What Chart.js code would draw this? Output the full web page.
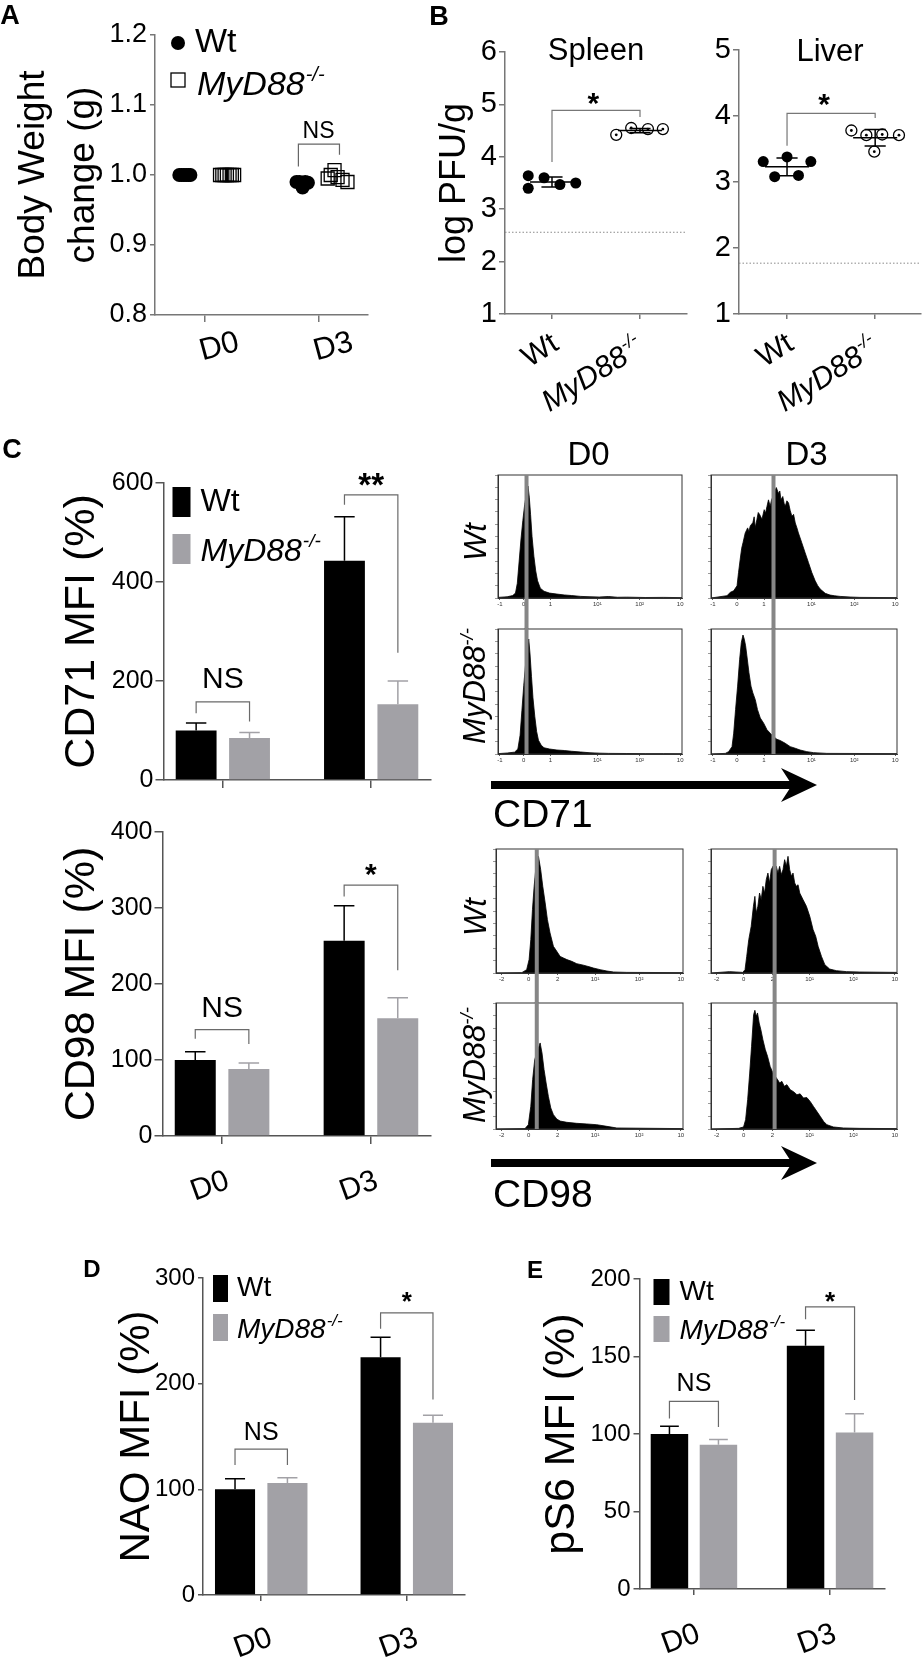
<!DOCTYPE html>
<html>
<head>
<meta charset="utf-8">
<title>MyD88 figure</title>
<script src="https://cdn.jsdelivr.net/npm/chart.js@4.4.1/dist/chart.umd.min.js"></script>
<style>
html, body { margin: 0; padding: 0; background: #fff; }
#page { position: relative; width: 924px; height: 1657px; overflow: hidden; background: #fff; font-family: "Liberation Sans", Arial, Helvetica, sans-serif; color: #000; }
.t { position: absolute; white-space: nowrap; line-height: 1; }
.t sup { font-size: 0.6em; vertical-align: 0.62em; line-height: 0; }
svg.arrows { position: absolute; left: 0; top: 0; }
</style>
</head>
<body>
<div id="page"></div>
<script>
// ===================== DATA =====================
const dayLabels = ['D0', 'D3'];
const genotypeLabels = ['Wt', 'MyD88-/-'];
const koName = 'MyD88';
const koSup = '-/-';

// Panel A - body weight change (g); x = day (with horizontal jitter)
const bwTicks = [0, 3];
const bwWtDay = [-0.66, -0.6, -0.54, -0.48, -0.42, -0.37, 2.42, 2.5, 2.58, 2.65, 2.72];
const bwWtVal = [1.0, 1.0, 1.0, 1.0, 1.0, 1.0, 0.99, 0.99, 0.982, 0.99, 0.989];
const bwKoDay = [0.41, 0.47, 0.53, 0.59, 0.66, 0.72, 0.78, 3.24, 3.32, 3.42, 3.5, 3.63, 3.76];
const bwKoVal = [1.0, 1.0, 1.0, 1.0, 1.0, 1.0, 1.0, 0.995, 1.0, 1.007, 0.997, 0.993, 0.99];
const bwBracket = [2.47, 3.55, 1.012, 1.044, 1.029];      // x1, x2, yLeft, yTop, yRight
const bwBracketLabel = ['NS', 3.0, 1.062];

// Panel B - log PFU/g
const spleenWtX = [0.73, 0.73, 0.91, 1.09, 1.27];
const spleenWtY = [3.64, 3.40, 3.60, 3.47, 3.50];
const spleenKoX = [1.73, 1.9, 2.09, 2.26];
const spleenKoY = [4.42, 4.55, 4.53, 4.53];
const spleenMean = [3.52, 4.50];
const spleenSD = [0.095, 0.04];
const spleenLOD = 2.56;
const spleenSig = [3.90, 4.886, 4.76, 1.47, 5.17, '*'];
const liverWtX = [0.73, 1.0, 1.27, 0.86, 1.13];
const liverWtY = [3.31, 3.38, 3.31, 3.08, 3.10];
const liverKoX = [1.73, 1.9, 2.08, 2.27, 1.99];
const liverKoY = [3.78, 3.71, 3.72, 3.71, 3.46];
const liverMean = [3.23, 3.67];
const liverSD = [0.135, 0.125];
const liverLOD = 1.77;
const liverSig = [3.55, 4.04, 3.97, 1.42, 4.30, '*'];

// Panel C - CD71 / CD98 MFI (%)
const cd71Wt = [100, 443];
const cd71WtSem = [15, 89];
const cd71Ko = [85, 153];
const cd71KoSem = [11, 47];
const cd71Sig = [[135, 158, 118, 202, 'NS'], [556, 576, 257, 612, '**']];
const cd98Wt = [100, 257];
const cd98WtSem = [11, 46];
const cd98Ko = [88, 155];
const cd98KoSem = [8, 27];
const cd98Sig = [[128, 140, 121, 168, 'NS'], [315, 330, 218, 354, '*']];

// Panel D - NAO MFI (%)
const naoWt = [100, 225];
const naoWtSem = [10, 19];
const naoKo = [106, 163];
const naoKoSem = [5, 7];
const naoSig = [[123, 138, 123, 153, 'NS'], [252, 267, 185, 284, '*']];

// Panel E - pS6 MFI (%)
const ps6Wt = [100, 157];
const ps6WtSem = [5, 10];
const ps6Ko = [93, 101];
const ps6KoSem = [3.5, 12];
const ps6Sig = [[110, 121, 104.5, 132, 'NS'], [174, 182, 122, 190, '*']];

// Panel C histograms (x = channel, % of axis; y = % of max count)
const histTicks71 = [1, 14, 28.5, 54, 77, 99];
const histTickLabels71 = ['-1', '0', '1', '10\u00b9', '10\u00b2', '10'];
const histTicks98 = [3, 17.5, 33, 53, 76.5, 98.8];
const histTickLabels98 = ['-2', '0', '2', '10\u00b9', '10\u00b2', '10'];
const gate71 = [15.5, 33.6];
const gate98 = [21.8, 34.2];

const h71D0wtX = [0, 5, 8, 9.5, 10.5, 11.5, 12.5, 13.5, 14.5, 15.5, 16.3, 17, 17.7, 18.5, 19.5, 20.5, 21.5, 23, 25, 28, 32, 36, 40, 45, 50, 55, 60, 65, 70, 80, 90, 100];
const h71D0wtY = [0.5, 1, 2, 4, 12, 30, 48, 63, 76, 85, 91, 82, 68, 50, 34, 22, 14, 8, 5.5, 4, 3.2, 2.5, 2, 1.3, 1, 0.8, 1.2, 0.6, 0.7, 0.4, 0.5, 0.3];
const h71D0koX = [0, 5, 9, 10.8, 12, 13, 14, 15, 16, 16.7, 17.4, 18.2, 19, 20, 21, 22, 23.5, 25, 28, 32, 36, 40, 45, 50, 55, 60, 70, 80, 90, 100];
const h71D0koY = [0.3, 0.8, 1.5, 4, 15, 35, 55, 72, 86, 92, 80, 62, 45, 30, 18, 11, 7, 5, 4, 3.2, 2.8, 2.2, 1.6, 1, 0.7, 0.5, 0.4, 0.3, 0.3, 0.2];
const h71D3wtX = [0, 8.6, 10.4, 12.2, 14.0, 14.8, 15.7, 16.5, 17.2, 18.4, 19.7, 20.4, 21.1, 22.5, 23.2, 23.8, 24.7, 25.4, 26.1, 27.4, 28.6, 29.3, 30.1, 30.9, 31.8, 32.6, 33.3, 34.2, 35.1, 36.3, 37.0, 37.6, 38.6, 39.3, 39.9, 40.8, 41.7, 42.6, 43.5, 44.4, 45.3, 46.2, 47.0, 48.8, 50.6, 52.4, 54.2, 56.0, 57.4, 58.7, 61.4, 64.0, 66.5, 69.4, 74.8, 80.1, 100];
const h71D3wtY = [0, 1.9, 4.6, 5.9, 9.9, 20.7, 31.5, 40.5, 44.9, 52.9, 57.0, 54.0, 58.6, 61.3, 66.0, 57.3, 64.0, 69.5, 68.0, 64.0, 71.8, 69.0, 74.5, 79.8, 74.5, 80.0, 82.3, 86.5, 89.8, 85.0, 87.0, 79.8, 82.5, 77.0, 74.5, 79.0, 77.2, 71.0, 66.4, 68.0, 61.0, 57.0, 52.9, 44.9, 36.8, 28.8, 20.7, 14.0, 10.0, 7.3, 3.8, 2.4, 1.8, 1.3, 0.8, 0.5, 0.3];
const h71D3koX = [0, 7.7, 9.5, 11.3, 12.2, 13.2, 14.3, 15.4, 16.3, 17.2, 17.9, 18.6, 19.3, 20.4, 21.5, 22.5, 23.8, 25.0, 26.5, 28.3, 30.1, 31.8, 33.6, 35.4, 37.2, 39.9, 42.6, 45.3, 47.9, 51.5, 55.1, 62.3, 100];
const h71D3koY = [0, 0.5, 1.9, 5.9, 16.7, 35.5, 54.3, 75.8, 89.2, 95.2, 91.9, 86.6, 78.5, 65.1, 54.3, 48.9, 43.5, 35.5, 28.8, 24.7, 19.4, 16.7, 14.0, 11.8, 10.8, 8.6, 5.9, 4.6, 3.2, 1.9, 1.1, 0.5, 0.3];
const h98D0wtX = [0, 13.8, 16.4, 17.7, 18.6, 19.5, 20.4, 21.4, 22.7, 23.9, 25.0, 26.3, 27.5, 28.9, 30.7, 32.5, 34.3, 36.1, 37.9, 40.5, 43.2, 46.8, 50.4, 52.1, 55.7, 59.3, 62.9, 70.0, 100];
const h98D0wtY = [0, 0.3, 2.7, 10.8, 26.9, 51.1, 69.9, 86.0, 94.1, 83.3, 69.9, 56.5, 43.0, 32.3, 21.5, 17.5, 13.4, 12.1, 10.8, 9.4, 7.5, 6.3, 4.8, 4.0, 2.7, 1.6, 0.8, 0.5, 0.3];
const h98D0koX = [0, 15.5, 17.3, 18.6, 19.6, 20.7, 21.8, 23.6, 24.6, 25.7, 26.8, 28.0, 29.3, 30.7, 32.5, 34.3, 37.9, 43.2, 48.6, 53.9, 59.3, 64.6, 100];
const h98D0koY = [0, 0.3, 3.4, 18.0, 39.2, 55.0, 60.3, 68.3, 60.3, 47.1, 36.5, 25.9, 16.7, 11.4, 7.9, 6.3, 5.3, 4.5, 4.0, 3.4, 2.1, 0.8, 0.3];
const h98D3wtX = [0, 9.9, 13.5, 17.1, 18.3, 19.2, 20.3, 21.6, 22.8, 23.6, 24.3, 25.2, 26.1, 27.0, 27.9, 28.8, 29.7, 30.6, 31.5, 32.4, 33.3, 34.2, 35.1, 36.0, 36.9, 37.8, 38.7, 39.6, 40.5, 41.4, 42.3, 43.2, 44.1, 45.0, 45.9, 46.8, 47.7, 49.5, 51.3, 53.1, 54.9, 56.3, 57.6, 59.4, 61.2, 63.8, 67.4, 72.8, 80.0, 100];
const h98D3wtY = [0, 1.1, 0.8, 0.5, 2.7, 13.4, 26.9, 37.6, 53.8, 61.8, 48.4, 53.8, 64.5, 59.1, 69.9, 64.5, 75.3, 80.6, 72.6, 83.3, 86.0, 83.3, 86.0, 80.6, 86.0, 79.3, 83.3, 91.4, 86.0, 94.1, 83.3, 78.0, 80.6, 72.6, 69.9, 71.2, 64.5, 59.1, 53.8, 45.7, 34.9, 29.6, 21.5, 13.4, 6.7, 3.2, 1.9, 1.1, 0.8, 0.5];
const h98D3koX = [0, 14.8, 17.5, 18.6, 19.7, 20.8, 21.8, 22.9, 23.6, 24.3, 25.0, 25.9, 26.8, 27.9, 29.2, 30.4, 31.8, 33.3, 34.5, 35.8, 36.9, 38.1, 39.4, 40.8, 42.6, 44.4, 46.2, 47.9, 49.7, 51.5, 53.3, 55.1, 56.9, 58.7, 60.5, 62.3, 65.8, 71.2, 80.1, 100];
const h98D3koY = [0, 0.5, 1.6, 7.4, 23.3, 44.4, 65.6, 90.7, 94.2, 89.4, 92.1, 84.1, 78.8, 70.9, 63.0, 57.7, 49.7, 44.4, 41.8, 39.2, 36.5, 37.8, 33.9, 35.2, 31.2, 29.6, 27.2, 27.9, 24.6, 25.0, 21.9, 17.9, 14.0, 10.1, 6.1, 3.4, 1.6, 0.8, 0.5, 0.3];

// ===================== RENDERING =====================
const page = document.getElementById('page');
const FONTF = '"Liberation Sans", Arial, Helvetica, sans-serif';
const AXC = '#555555';
const AXB = '#777777';
const BRC = '#6a6a6a';
const BLK = '#000000';
const GRY = '#a2a1a6';

Chart.defaults.font.family = FONTF;
Chart.defaults.color = '#000';

function addText(html, x, y, size, o) {
  o = o || {};
  const d = document.createElement('div');
  d.className = 't';
  d.innerHTML = html;
  const tx = o.align === 'left' ? '0' : '-50%';
  d.style.left = x + 'px';
  d.style.top = y + 'px';
  d.style.fontSize = size + 'px';
  if (o.bold) d.style.fontWeight = 'bold';
  if (o.italic) d.style.fontStyle = 'italic';
  d.style.transform = 'translate(' + tx + ',-50%)' + (o.rot ? ' rotate(' + o.rot + 'deg)' : '');
  page.appendChild(d);
}

function mount(box, yW, xH, pad) {
  const W = pad.l + yW + (box.r - box.l) + pad.r;
  const H = pad.t + (box.b - box.t) + xH + pad.b;
  const d = document.createElement('div');
  d.style.cssText = 'position:absolute;left:' + (box.l - yW - pad.l) + 'px;top:' + (box.t - pad.t) + 'px;width:' + W + 'px;height:' + H + 'px;';
  const c = document.createElement('canvas');
  d.appendChild(c);
  page.appendChild(d);
  return c;
}

function baseOpts(pad) {
  return {
    responsive: true, maintainAspectRatio: false, animation: false, events: [],
    layout: { padding: { left: pad.l, top: pad.t, right: pad.r, bottom: pad.b }, autoPadding: false },
    plugins: { legend: { display: false }, tooltip: { enabled: false } }
  };
}

function yAxis(o) {
  return {
    type: 'linear', min: o.min, max: o.max,
    ticks: { stepSize: o.step, font: { size: o.size }, color: '#000', padding: o.pad, callback: o.fmt || (v => String(v)) },
    grid: { display: true, drawOnChartArea: false, drawTicks: true, tickLength: o.tl, color: o.col, lineWidth: 1.5 },
    border: { display: true, color: o.col, width: 1.5 },
    title: o.title ? { display: true, text: o.title, font: { size: o.tsize, lineHeight: o.tlh || 1 }, color: '#000', padding: { top: 0, bottom: 0 } } : { display: false },
    afterFit: s => { s.width = o.yW; }
  };
}

function xAxis(o) {
  return {
    type: 'linear', min: o.min, max: o.max, offset: false,
    afterBuildTicks: s => { s.ticks = o.vals.map(v => ({ value: v })); },
    ticks: { display: o.show !== false, autoSkip: false, minRotation: o.rot || 0, maxRotation: o.rot || 0, padding: o.pad || 0, labelOffset: o.lo || 0, font: { size: o.size }, color: '#000', callback: (v, i) => o.labels[i] },
    grid: { display: true, offset: false, drawOnChartArea: false, drawTicks: true, tickLength: o.tl, color: o.col, lineWidth: 1.5 },
    border: { display: true, color: o.col, width: 1.5 },
    afterFit: s => { s.height = o.xH; }
  };
}

function txt(ctx, s, x, y, font, o) {
  o = o || {};
  ctx.save();
  ctx.font = font;
  ctx.fillStyle = o.color || '#000';
  ctx.textAlign = o.align || 'center';
  ctx.textBaseline = 'middle';
  ctx.fillText(s, x, y);
  ctx.restore();
}
function star(ctx, s, x, yc, size) {
  ctx.save();
  ctx.font = 'bold ' + size + 'px ' + FONTF;
  ctx.fillStyle = '#000';
  ctx.textAlign = 'center';
  ctx.textBaseline = 'alphabetic';
  ctx.fillText(s, x, yc + 0.58 * size);
  ctx.restore();
}
function bracket(ctx, x1, x2, yL, yT, yR, col) {
  ctx.save();
  ctx.strokeStyle = col || BRC;
  ctx.lineWidth = 1.2;
  ctx.beginPath();
  ctx.moveTo(x1, yL); ctx.lineTo(x1, yT); ctx.lineTo(x2, yT); ctx.lineTo(x2, yR);
  ctx.stroke();
  ctx.restore();
}
function drawGeno(ctx, x, y, size, o) {
  o = o || {};
  ctx.save();
  ctx.translate(x, y);
  if (o.rot) ctx.rotate(-o.rot * Math.PI / 180);
  const f1 = 'italic ' + size + 'px ' + FONTF;
  const f2 = 'italic ' + Math.round(size * 0.6) + 'px ' + FONTF;
  ctx.font = f1; const w1 = ctx.measureText(koName).width;
  ctx.font = f2; const w2 = ctx.measureText(koSup).width;
  const x0 = o.align === 'right' ? -(w1 + w2 + 1) : 0;
  const base = o.top ? size * 0.72 : size * 0.36;
  ctx.fillStyle = '#000';
  ctx.textAlign = 'left';
  ctx.textBaseline = 'alphabetic';
  ctx.font = f1; ctx.fillText(koName, x0, base);
  ctx.font = f2; ctx.fillText(koSup, x0 + w1 + 1, base - size * 0.42);
  ctx.restore();
}

// ---------- Panel A ----------
(function () {
  const box = { l: 155, t: 35, r: 368, b: 315 };
  const yW = 146, xH = 60, pad = { l: 0, t: 20, r: 6, b: 0 };
  const c = mount(box, yW, xH, pad);
  const opts = baseOpts(pad);
  opts.scales = {
    x: xAxis({ min: -1.3, max: 4.3, vals: bwTicks, labels: dayLabels, rot: 15, pad: 2, lo: 34, size: 31, tl: 7, col: AXB, xH: xH }),
    y: yAxis({ min: 0.8, max: 1.2, step: 0.1, size: 27, pad: 3, tl: 5, col: AXB, title: ['Body Weight', 'change (g)'], tsize: 37, tlh: 1.35, yW: yW, fmt: v => v.toFixed(1) })
  };
  new Chart(c, {
    type: 'scatter',
    data: { datasets: [
      { label: genotypeLabels[0], data: bwWtDay.map((x, i) => ({ x: x, y: bwWtVal[i] })), pointStyle: 'circle', pointRadius: 7, pointBackgroundColor: BLK, pointBorderColor: BLK, pointBorderWidth: 0 },
      { label: genotypeLabels[1], data: bwKoDay.map((x, i) => ({ x: x, y: bwKoVal[i] })), pointStyle: 'rect', pointRadius: 9.2, pointBackgroundColor: 'rgba(0,0,0,0)', pointBorderColor: BLK, pointBorderWidth: 1.3 }
    ] },
    options: opts,
    plugins: [{ id: 'aDeco', afterDatasetsDraw(chart) {
      const ctx = chart.ctx, a = chart.chartArea, xs = chart.scales.x, ys = chart.scales.y;
      const b = bwBracket;
      bracket(ctx, xs.getPixelForValue(b[0]), xs.getPixelForValue(b[1]), ys.getPixelForValue(b[2]), ys.getPixelForValue(b[3]), ys.getPixelForValue(b[4]), '#666');
      txt(ctx, bwBracketLabel[0], xs.getPixelForValue(bwBracketLabel[1]), ys.getPixelForValue(bwBracketLabel[2]), '23px ' + FONTF);
      ctx.save();
      ctx.fillStyle = BLK;
      ctx.beginPath(); ctx.arc(a.left + 23, a.top + 8, 7, 0, 2 * Math.PI); ctx.fill();
      ctx.strokeStyle = BLK; ctx.lineWidth = 1.3;
      ctx.strokeRect(a.left + 16, a.top + 38, 14, 14);
      ctx.restore();
      txt(ctx, genotypeLabels[0], a.left + 40, a.top + 8, '34px ' + FONTF, { align: 'left' });
      drawGeno(ctx, a.left + 42, a.top + 48, 34, {});
    } }]
  });
})();

// ---------- Panel B ----------
function pfuPanel(o) {
  const c = mount(o.box, o.yW, o.xH, o.pad);
  const opts = baseOpts(o.pad);
  opts.scales = {
    x: xAxis({ min: o.xmin, max: o.xmax, vals: [1, 2], labels: [genotypeLabels[0], ''], rot: 32, pad: 7, lo: 4, size: 30, tl: 5, col: AXB, xH: o.xH }),
    y: yAxis({ min: 1, max: o.ymax, step: 1, size: 29, pad: 2, tl: 6, col: AXB, title: o.ytitle, tsize: 36, yW: o.yW })
  };
  new Chart(c, {
    type: 'scatter',
    data: { datasets: [
      { label: genotypeLabels[0], order: 2, data: o.wtX.map((x, i) => ({ x: x, y: o.wtY[i] })), pointStyle: 'circle', pointRadius: 5.5, pointBackgroundColor: BLK, pointBorderColor: BLK, pointBorderWidth: 0 },
      { label: genotypeLabels[1], order: 1, data: o.koX.map((x, i) => ({ x: x, y: o.koY[i] })), pointStyle: 'circle', pointRadius: 5.5, pointBackgroundColor: '#fff', pointBorderColor: BLK, pointBorderWidth: 1.3 },
      { label: genotypeLabels[1] + ' centre', order: 0, data: o.koX.map((x, i) => ({ x: x, y: o.koY[i] })), pointStyle: 'circle', pointRadius: 1.4, pointBackgroundColor: BLK, pointBorderColor: BLK, pointBorderWidth: 0 }
    ] },
    options: opts,
    plugins: [{ id: 'bDeco', afterDatasetsDraw(chart) {
      const ctx = chart.ctx, a = chart.chartArea, xs = chart.scales.x, ys = chart.scales.y;
      ctx.save();
      ctx.strokeStyle = '#8a8a8a'; ctx.lineWidth = 1; ctx.setLineDash([1.5, 2]);
      const yl = ys.getPixelForValue(o.lod);
      ctx.beginPath(); ctx.moveTo(a.left, yl); ctx.lineTo(a.right, yl); ctx.stroke();
      ctx.restore();
      ctx.save();
      ctx.strokeStyle = BLK; ctx.lineWidth = 1.5;
      o.mean.forEach((m, g) => {
        const xc = g + 1, px = xs.getPixelForValue(xc);
        const hw = xs.getPixelForValue(xc + 0.25) - px, cw = xs.getPixelForValue(xc + 0.12) - px;
        const ym = ys.getPixelForValue(m), yh = ys.getPixelForValue(m + o.sd[g]), ylo = ys.getPixelForValue(m - o.sd[g]);
        ctx.beginPath();
        ctx.moveTo(px - hw, ym); ctx.lineTo(px + hw, ym);
        ctx.moveTo(px, yh); ctx.lineTo(px, ylo);
        ctx.moveTo(px - cw, yh); ctx.lineTo(px + cw, yh);
        ctx.moveTo(px - cw, ylo); ctx.lineTo(px + cw, ylo);
        ctx.stroke();
      });
      ctx.restore();
      const b = o.sig;
      bracket(ctx, xs.getPixelForValue(1), xs.getPixelForValue(2), ys.getPixelForValue(b[0]), ys.getPixelForValue(b[1]), ys.getPixelForValue(b[2]), '#777');
      star(ctx, b[5], xs.getPixelForValue(b[3]), ys.getPixelForValue(b[4]), 30);
      txt(ctx, o.title, (a.left + a.right) / 2, a.top + o.titleDy, o.titleSize + 'px ' + FONTF);
      drawGeno(ctx, xs.getPixelForValue(2) - 6, a.bottom + 20, 30, { align: 'right', rot: 32, top: true });
    } }]
  });
}
pfuPanel({ box: { l: 505, t: 52, r: 687, b: 314 }, yW: 68, xH: 104, pad: { l: 0, t: 45, r: 8, b: 0 }, xmin: 0.466, xmax: 2.534, ymax: 6, ytitle: 'log PFU/g',
  title: 'Spleen', titleDy: -1, titleSize: 31, wtX: spleenWtX, wtY: spleenWtY, koX: spleenKoX, koY: spleenKoY, mean: spleenMean, sd: spleenSD, lod: spleenLOD, sig: spleenSig });
pfuPanel({ box: { l: 739, t: 50, r: 921, b: 314 }, yW: 30, xH: 104, pad: { l: 0, t: 43, r: 3, b: 0 }, xmin: 0.455, xmax: 2.52, ymax: 5, ytitle: null,
  title: 'Liver', titleDy: 2.5, titleSize: 31, wtX: liverWtX, wtY: liverWtY, koX: liverKoX, koY: liverKoY, mean: liverMean, sd: liverSD, lod: liverLOD, sig: liverSig });

// ---------- Bar panels (C, D, E) ----------
function barPanel(o) {
  const c = mount(o.box, o.yW, o.xH, o.pad);
  const opts = baseOpts(o.pad);
  opts.scales = {
    x: xAxis({ min: -0.4, max: 1.4, vals: [0, 1], labels: dayLabels, show: o.showX, rot: 20, pad: o.xpad, lo: o.xlo, size: 30, tl: o.xtl, col: AXC, xH: o.xH }),
    y: yAxis({ min: 0, max: o.max, step: o.step, size: o.tsz, pad: o.tpad, tl: o.tl, col: AXC, title: o.title, tsize: o.tsize, yW: o.yW })
  };
  new Chart(c, {
    type: 'bar',
    data: { datasets: [
      { label: genotypeLabels[0], data: o.wt.map((v, i) => ({ x: i, y: v })), backgroundColor: BLK, borderWidth: 0, barPercentage: 0.765, categoryPercentage: 0.72 },
      { label: genotypeLabels[1], data: o.ko.map((v, i) => ({ x: i, y: v })), backgroundColor: GRY, borderWidth: 0, barPercentage: 0.765, categoryPercentage: 0.72 }
    ] },
    options: opts,
    plugins: [{ id: 'barDeco', afterDatasetsDraw(chart) {
      const ctx = chart.ctx, a = chart.chartArea, ys = chart.scales.y;
      const m0 = chart.getDatasetMeta(0).data, m1 = chart.getDatasetMeta(1).data;
      ctx.save();
      ctx.lineWidth = 1.5;
      [[m0, o.wt, o.wtErr, BLK], [m1, o.ko, o.koErr, GRY]].forEach(e => {
        e[0].forEach((el, j) => {
          const yt = ys.getPixelForValue(e[1][j] + e[2][j]);
          ctx.strokeStyle = e[3];
          ctx.beginPath();
          ctx.moveTo(el.x, el.y); ctx.lineTo(el.x, yt);
          ctx.moveTo(el.x - el.width / 4, yt); ctx.lineTo(el.x + el.width / 4, yt);
          ctx.stroke();
        });
      });
      ctx.restore();
      o.sig.forEach((b, j) => {
        const x1 = m0[j].x, x2 = m1[j].x;
        bracket(ctx, x1, x2, ys.getPixelForValue(b[0]), ys.getPixelForValue(b[1]), ys.getPixelForValue(b[2]));
        const xm = (x1 + x2) / 2, yl = ys.getPixelForValue(b[3]);
        if (b[4] === 'NS') txt(ctx, b[4], xm, yl, o.nsSize + 'px ' + FONTF);
        else star(ctx, b[4], xm, yl, o.starSize);
      });
      if (o.legend) {
        const L = o.legend;
        ctx.save();
        ctx.fillStyle = BLK; ctx.fillRect(a.left + L.x, a.top + L.y1, L.w, L.h);
        ctx.fillStyle = GRY; ctx.fillRect(a.left + L.x, a.top + L.y2, L.w, L.h);
        ctx.restore();
        txt(ctx, genotypeLabels[0], a.left + L.tx, a.top + L.y1 + L.h / 2, L.size + 'px ' + FONTF, { align: 'left' });
        drawGeno(ctx, a.left + L.tx, a.top + L.y2 + L.h / 2, L.size, {});
      }
    } }]
  });
}

barPanel({ box: { l: 163, t: 483, r: 430, b: 780 }, yW: 102.5, xH: 18, pad: { l: 0, t: 32, r: 8, b: 0 },
  max: 600, step: 200, tsz: 25, tpad: 2, tl: 8, title: 'CD71 MFI (%)', tsize: 43,
  wt: cd71Wt, ko: cd71Ko, wtErr: cd71WtSem, koErr: cd71KoSem, sig: cd71Sig,
  showX: false, xpad: 0, xlo: 0, xtl: 8, nsSize: 30, starSize: 33,
  legend: { x: 9, w: 18, h: 30, y1: 4, y2: 51, tx: 37, size: 32 } });

barPanel({ box: { l: 162, t: 832, r: 430, b: 1136 }, yW: 101.5, xH: 70, pad: { l: 0, t: 22, r: 8, b: 0 },
  max: 400, step: 100, tsz: 25, tpad: 2, tl: 8, title: 'CD98 MFI (%)', tsize: 43,
  wt: cd98Wt, ko: cd98Ko, wtErr: cd98WtSem, koErr: cd98KoSem, sig: cd98Sig,
  showX: true, xpad: 19, xlo: 6, xtl: 8, nsSize: 30, starSize: 30, legend: null });

barPanel({ box: { l: 203, t: 1278, r: 465, b: 1595 }, yW: 87, xH: 62, pad: { l: 0, t: 25, r: 5, b: 0 },
  max: 300, step: 100, tsz: 24, tpad: 3, tl: 5, title: 'NAO MFI (%)', tsize: 42,
  wt: naoWt, ko: naoKo, wtErr: naoWtSem, koErr: naoKoSem, sig: naoSig,
  showX: true, xpad: 19, xlo: 10, xtl: 6, nsSize: 25, starSize: 26,
  legend: { x: 10, w: 15, h: 27, y1: -3, y2: 36, tx: 34, size: 28 } });

barPanel({ box: { l: 639, t: 1279, r: 884, b: 1589 }, yW: 98.5, xH: 68, pad: { l: 0, t: 25, r: 8, b: 0 },
  max: 200, step: 50, tsz: 24, tpad: 3, tl: 6, title: 'pS6 MFI (%)', tsize: 43,
  wt: ps6Wt, ko: ps6Ko, wtErr: ps6WtSem, koErr: ps6KoSem, sig: ps6Sig,
  showX: true, xpad: 21, xlo: 5, xtl: 6, nsSize: 25, starSize: 26,
  legend: { x: 14, w: 16, h: 26, y1: 0, y2: 37, tx: 40, size: 28 } });

// ---------- Histograms ----------
function histPanel(box, xs, ys, gate, tVals, tLabels, isTop, gapH) {
  const yW = 4;
  const pad = isTop ? { l: 2, t: 2, r: 3, b: 0 } : { l: 2, t: 1, r: 3, b: 2 };
  const xH = isTop ? gapH : 14;
  const c = mount(box, yW, xH, pad);
  const opts = baseOpts(pad);
  opts.scales = {
    x: { type: 'linear', min: 0, max: 100,
      afterBuildTicks: s => { s.ticks = tVals.map(v => ({ value: v })); },
      ticks: { autoSkip: false, minRotation: 0, maxRotation: 0, font: { size: 6 }, color: '#333', padding: 1, callback: (v, i) => tLabels[i] },
      grid: { display: true, drawOnChartArea: false, drawTicks: true, tickLength: 2, color: '#333', lineWidth: 0.8 },
      border: { display: true, color: '#333', width: 1 },
      afterFit: s => { s.height = xH; } },
    y: { type: 'linear', min: 0, max: 100,
      ticks: { display: false, stepSize: 10 },
      grid: { display: true, drawOnChartArea: false, drawTicks: true, tickLength: 3, color: '#555', lineWidth: 0.6 },
      border: { display: true, color: '#333', width: 1 },
      afterFit: s => { s.width = yW; } }
  };
  new Chart(c, {
    type: 'line',
    data: { datasets: [{ data: xs.map((x, i) => ({ x: x, y: ys[i] })), fill: 'origin', backgroundColor: '#000', borderColor: '#000', borderWidth: 0.8, pointRadius: 0, tension: 0 }] },
    options: opts,
    plugins: [{ id: 'hDeco', afterDatasetsDraw(chart) {
      const ctx = chart.ctx, a = chart.chartArea;
      const gx = chart.scales.x.getPixelForValue(gate);
      ctx.save();
      ctx.strokeStyle = '#333'; ctx.lineWidth = 1;
      ctx.strokeRect(a.left, a.top, a.right - a.left, a.bottom - a.top);
      ctx.fillStyle = '#868686';
      const y0 = isTop ? a.top : 0, y1 = isTop ? chart.height : a.bottom;
      ctx.fillRect(gx - 2, y0, 4, y1 - y0);
      ctx.restore();
    } }]
  });
}
histPanel({ l: 498, t: 475, r: 682, b: 598 }, h71D0wtX, h71D0wtY, gate71[0], histTicks71, histTickLabels71, true, 31);
histPanel({ l: 498, t: 629, r: 682, b: 754 }, h71D0koX, h71D0koY, gate71[0], histTicks71, histTickLabels71, false, 0);
histPanel({ l: 711, t: 475, r: 897, b: 598 }, h71D3wtX, h71D3wtY, gate71[1], histTicks71, histTickLabels71, true, 31);
histPanel({ l: 711, t: 629, r: 897, b: 754 }, h71D3koX, h71D3koY, gate71[1], histTicks71, histTickLabels71, false, 0);
histPanel({ l: 496, t: 849, r: 683, b: 973 }, h98D0wtX, h98D0wtY, gate98[0], histTicks98, histTickLabels98, true, 30);
histPanel({ l: 496, t: 1003, r: 683, b: 1129 }, h98D0koX, h98D0koY, gate98[0], histTicks98, histTickLabels98, false, 0);
histPanel({ l: 711, t: 849, r: 897, b: 973 }, h98D3wtX, h98D3wtY, gate98[1], histTicks98, histTickLabels98, true, 30);
histPanel({ l: 711, t: 1003, r: 897, b: 1129 }, h98D3koX, h98D3koY, gate98[1], histTicks98, histTickLabels98, false, 0);

// ---------- Arrows ----------
(function () {
  const ns = 'http://www.w3.org/2000/svg';
  const svg = document.createElementNS(ns, 'svg');
  svg.setAttribute('class', 'arrows');
  svg.setAttribute('width', '924');
  svg.setAttribute('height', '1657');
  [785, 1163].forEach(yc => {
    const r = document.createElementNS(ns, 'rect');
    r.setAttribute('x', 491); r.setAttribute('y', yc - 4); r.setAttribute('width', 303); r.setAttribute('height', 8); r.setAttribute('fill', '#000');
    svg.appendChild(r);
    const p = document.createElementNS(ns, 'polygon');
    p.setAttribute('points', '781,' + (yc - 17) + ' 817,' + yc + ' 781,' + (yc + 17) + ' 792,' + yc);
    p.setAttribute('fill', '#000');
    svg.appendChild(p);
  });
  page.appendChild(svg);
})();

// ---------- Free text ----------
addText('A', 10, 15, 27, { bold: true });
addText('B', 439, 16, 27, { bold: true });
addText('C', 12, 449, 27, { bold: true });
addText('D', 92, 1268.5, 24, { bold: true });
addText('E', 535, 1270, 24, { bold: true });
addText(dayLabels[0], 588.5, 453, 33);
addText(dayLabels[1], 806.5, 453, 33);
addText('Wt', 475, 542, 31, { italic: true, rot: -90 });
addText('MyD88<sup>-/-</sup>', 474, 686, 31, { italic: true, rot: -90 });
addText('Wt', 475, 917, 31, { italic: true, rot: -90 });
addText('MyD88<sup>-/-</sup>', 474, 1065, 31, { italic: true, rot: -90 });
addText('CD71', 493, 813, 39, { align: 'left' });
addText('CD98', 493, 1193, 39, { align: 'left' });
</script>
</body>
</html>
